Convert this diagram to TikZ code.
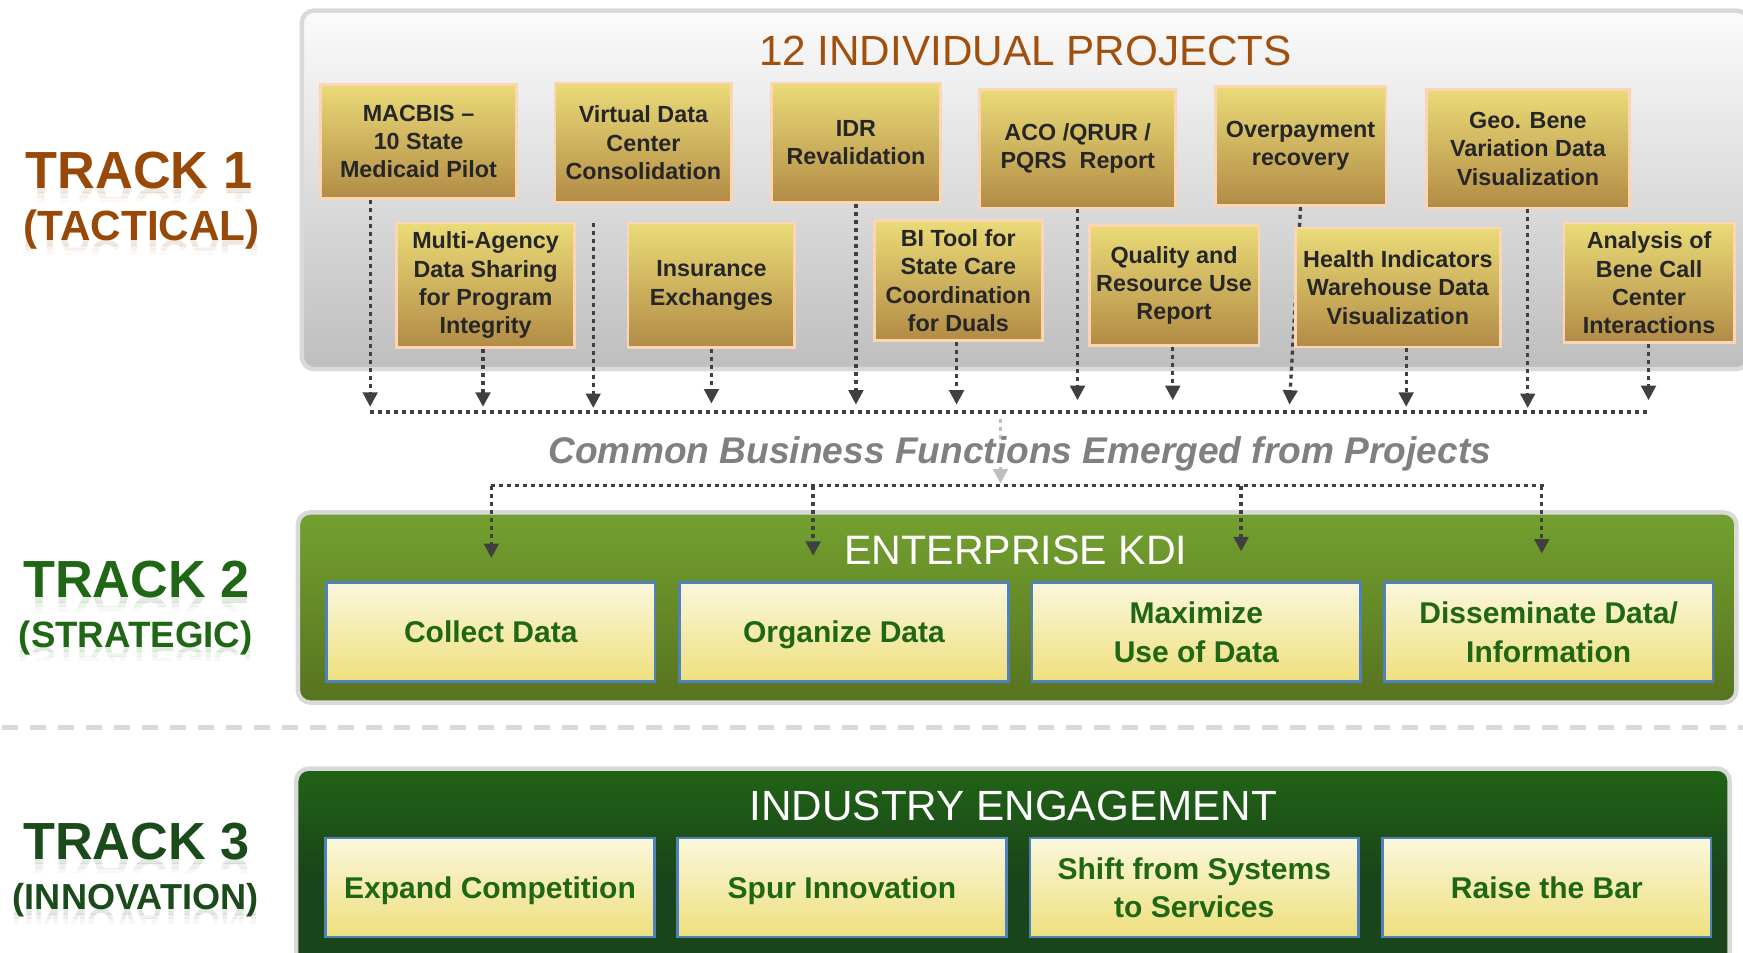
\documentclass[tikz,border=0pt]{standalone}
\usepackage{fontspec}
\setmainfont{Liberation Sans}
\usetikzlibrary{arrows.meta,calc}
\pgfdeclarelayer{panel}
\pgfdeclarelayer{link}
\pgfsetlayers{panel,link,main}

\definecolor{kdiBrown}{RGB}{152,72,7}
\definecolor{kdiTitle}{RGB}{160,80,12}
\definecolor{kdiGreen}{RGB}{31,103,20}
\definecolor{kdiForest}{RGB}{27,74,27}
\definecolor{kdiInk}{RGB}{38,38,38}
\definecolor{kdiGray}{RGB}{64,64,64}
\definecolor{kdiPale}{RGB}{191,191,191}
\definecolor{kdiStone}{RGB}{128,128,128}
\definecolor{kdiRim}{RGB}{217,217,217}
\definecolor{kdiMist}{RGB}{251,251,251}
\definecolor{kdiSilver}{RGB}{190,190,190}
\definecolor{kdiPeach}{RGB}{252,213,180}
\definecolor{kdiGoldTop}{RGB}{234,219,120}
\definecolor{kdiGoldBot}{RGB}{178,139,69}
\definecolor{kdiCreamTop}{RGB}{251,247,220}
\definecolor{kdiCreamBot}{RGB}{238,223,125}
\definecolor{kdiBlue}{RGB}{79,129,189}
\definecolor{kdiLeafTop}{RGB}{115,161,48}
\definecolor{kdiLeafBot}{RGB}{87,115,31}
\definecolor{kdiPineTop}{RGB}{33,100,22}
\definecolor{kdiPineBot}{RGB}{26,68,26}

% font size shortcut: #1 = size, #2 = baseline skip (both in pt)
\newcommand{\kdifont}[2]{\fontsize{#1}{#2}\selectfont}

\begin{document}
\begin{tikzpicture}[x=1pt, y=-1pt,
  panel/.style={draw=kdiRim, line width=4pt, rounded corners=11pt},
  projbox/.style={draw=kdiPeach, line width=2.5pt, top color=kdiGoldTop,
                  bottom color=kdiGoldBot, text=kdiInk, align=center,
                  font=\kdifont{21}{25.5}\bfseries, inner sep=0pt},
  goalbox/.style={draw=kdiBlue, line width=2.5pt, top color=kdiCreamTop,
                  bottom color=kdiCreamBot, text=kdiGreen, align=center,
                  font=\kdifont{27}{34.5}\bfseries, inner sep=0pt, text depth=0pt,
                  minimum width=295.5pt, minimum height=88.5pt},
  tracklabel/.style={font=\kdifont{#1}{#1}\bfseries, anchor=base},
  banner/.style={font=\kdifont{#1}{#1}, anchor=base},
  flow/.style={kdiGray, line width=3pt, dash pattern=on 3.6pt off 3.6pt,
               -{Triangle[length=13pt,width=13pt]}},
  bus/.style={kdiGray, line width=3pt, dash pattern=on 3.6pt off 3.6pt},
]

\useasboundingbox (0,0) rectangle (1568,857);

% ─── the three track panels and the divider ─────────────────────
\begin{pgfonlayer}{panel}
  \draw[panel, top color=kdiMist, bottom color=kdiSilver]
       (271.5,9.5) rectangle (1573,332);
  \draw[panel, top color=kdiLeafTop, bottom color=kdiLeafBot]
       (268,461) rectangle (1562,632);
  \draw[panel, top color=kdiPineTop, bottom color=kdiPineBot, middle color=kdiPineBot]
       (266.5,691.5) rectangle (1556,885);
  \coordinate (sepW) at (1.5,654.3);
  \coordinate (sepE) at (1568,654.3);
  \draw[kdiRim, line width=4.2pt, dash pattern=on 14.4pt off 10.8pt] (sepW) -- (sepE);
\end{pgfonlayer}

% ─── track names, each with a faint mirror image fading out ────
\foreach \nm/\lx/\ly/\sz/\col/\txt in {
    tr1/125/169.4/47/kdiBrown/TRACK 1,
    tr1s/127.5/216.5/38/kdiBrown/(TACTICAL),
    tr2/122.6/537.7/47/kdiGreen/TRACK 2,
    tr2s/122/582.4/33/kdiGreen/(STRATEGIC),
    tr3/122.7/773/47/kdiForest/TRACK 3,
    tr3s/122/818.6/32.5/kdiForest/(INNOVATION)}{
  \node[tracklabel=\sz, text=\col] (\nm) at (\lx,\ly) {\txt};
  \foreach \k/\op in {0/.13, 4/.08, 8/.04}{
    \begin{scope}
      \clip ({\lx-140},{\ly+\k}) rectangle ({\lx+140},{\ly+\k+4});
      \node[tracklabel=\sz, text=\col, yscale=-1, opacity=\op] at (\lx,\ly) {\txt};
    \end{scope}
  }
}

% ─── headings ──────────────────────────────────────────────────
\node[banner=38, text=kdiTitle] (projTitle) at (922.5,58.5) {12 INDIVIDUAL PROJECTS};
\node[font=\kdifont{33.4}{33.4}\bfseries\itshape, anchor=base, text=kdiStone] (cbf)
     at (917.5,416.8) {Common Business Functions Emerged from Projects};
\node[banner=37, text=white] (entTitle) at (913.8,507.4) {ENTERPRISE KDI};
\node[banner=38, text=white] (indTitle) at (911.5,737.7) {INDUSTRY ENGAGEMENT};

% ─── track 1: the twelve projects (name/x/y/width/height/text) ──
\foreach \nm/\cx/\cy/\w/\h/\txt in {
    macbis/376.5/127.3/176.5/103/{MACBIS –\\10 State\\Medicaid Pilot},
    vdc/578.8/128.5/159/107.5/{Virtual Data\\Center\\Consolidation},
    idr/770/128.5/151.5/107.5/{IDR\\Revalidation},
    aco/969.5/133.7/176.5/106.8/{ACO /QRUR /\\PQRS\ \ Report},
    overpay/1170/131.3/153.5/107/{Overpayment\\recovery},
    geo/1374.5/133.9/183/106.3/{Geo. Bene\\Variation Data\\Visualization},
    multi/436.8/256.7/160/112/{Multi-Agency\\Data Sharing\\for Program\\Integrity},
    insur/640/256.7/150/112/{Insurance\\Exchanges},
    bitool/862.1/252.4/151.3/107.6/{BI Tool for\\State Care\\Coordination\\for Duals},
    quality/1056.2/256.7/152.6/108/{Quality and\\Resource Use\\Report},
    hiw/1257.5/258.7/184.5/107/{Health Indicators\\Warehouse Data\\Visualization},
    callctr/1483.5/254.5/153/107.6/{Analysis of\\Bene Call\\Center\\Interactions}}{
  \node[projbox, minimum width=\w pt, minimum height=\h pt] (\nm) at (\cx,\cy) {\txt};
}

% ─── track 2 and track 3 goal boxes ───────────────────────────
\foreach \nm/\cx/\txt in {collect/441.5/{Collect Data}, organize/759.2/{Organize Data},
    maximize/1076.2/{Maximize\\Use of Data}, dissem/1393.2/{Disseminate Data/\\Information}}{
  \node[goalbox] (\nm) at (\cx,568.5) {\txt};
}
\foreach \nm/\cx/\txt in {expand/440.8/{Expand Competition}, spur/757.4/{Spur Innovation},
    sysshift/1074.4/{Shift from Systems\\to Services}, raise/1391.5/{Raise the Bar}}{
  \node[goalbox, minimum height=89pt] (\nm) at (\cx,798.4) {\txt};
}

% ─── dotted links ─────────────────────────────────────────────
\begin{pgfonlayer}{link}
  % projects down onto the collecting line
  \foreach \nm/\ax/\ty in {macbis/333/366, multi/434.5/366, insur/640/363,
      idr/770/364, bitool/860.5/364, aco/969.3/360, quality/1055/360,
      hiw/1265/366, geo/1374.3/367, callctr/1483/360}{
    \coordinate (\nm Tip) at (\ax,\ty);
    \draw[flow] (\nm.south -| \nm Tip) -- (\nm Tip);
  }
  \coordinate (vdcTip) at (533.7,367);
  \draw[flow] ($(vdc.south -| vdcTip)+(0,17)$) -- (vdcTip);
  \coordinate (overpayTip) at (1160,364);
  \draw[flow] (overpay.south) -- (overpayTip);

  \coordinate (busW) at (333,370.5);
  \coordinate (busE) at (1483,370.5);
  \draw[bus] (busW) -- (busE);

  % hand-over to the enterprise line
  \coordinate (busMid) at (900,370.5);
  \coordinate (fanMid) at (900,437);
  \draw[flow, kdiPale] ($(busMid)+(0,6)$) -- ($(fanMid)+(0,-2)$);

  \coordinate (fanW) at (442,437);
  \coordinate (fanE) at (1390,437);
  \draw[bus] (fanW) -- (fanE);
  \foreach \goal/\ax/\ty in {collect/442/502, organize/731.5/500,
      maximize/1116.5/496, dissem/1387/498}{
    \coordinate (\goal Tip) at (\ax,\ty);
    \draw[flow] (fanW -| \goal Tip) -- (\goal Tip);
  }
\end{pgfonlayer}

\end{tikzpicture}
\end{document}
